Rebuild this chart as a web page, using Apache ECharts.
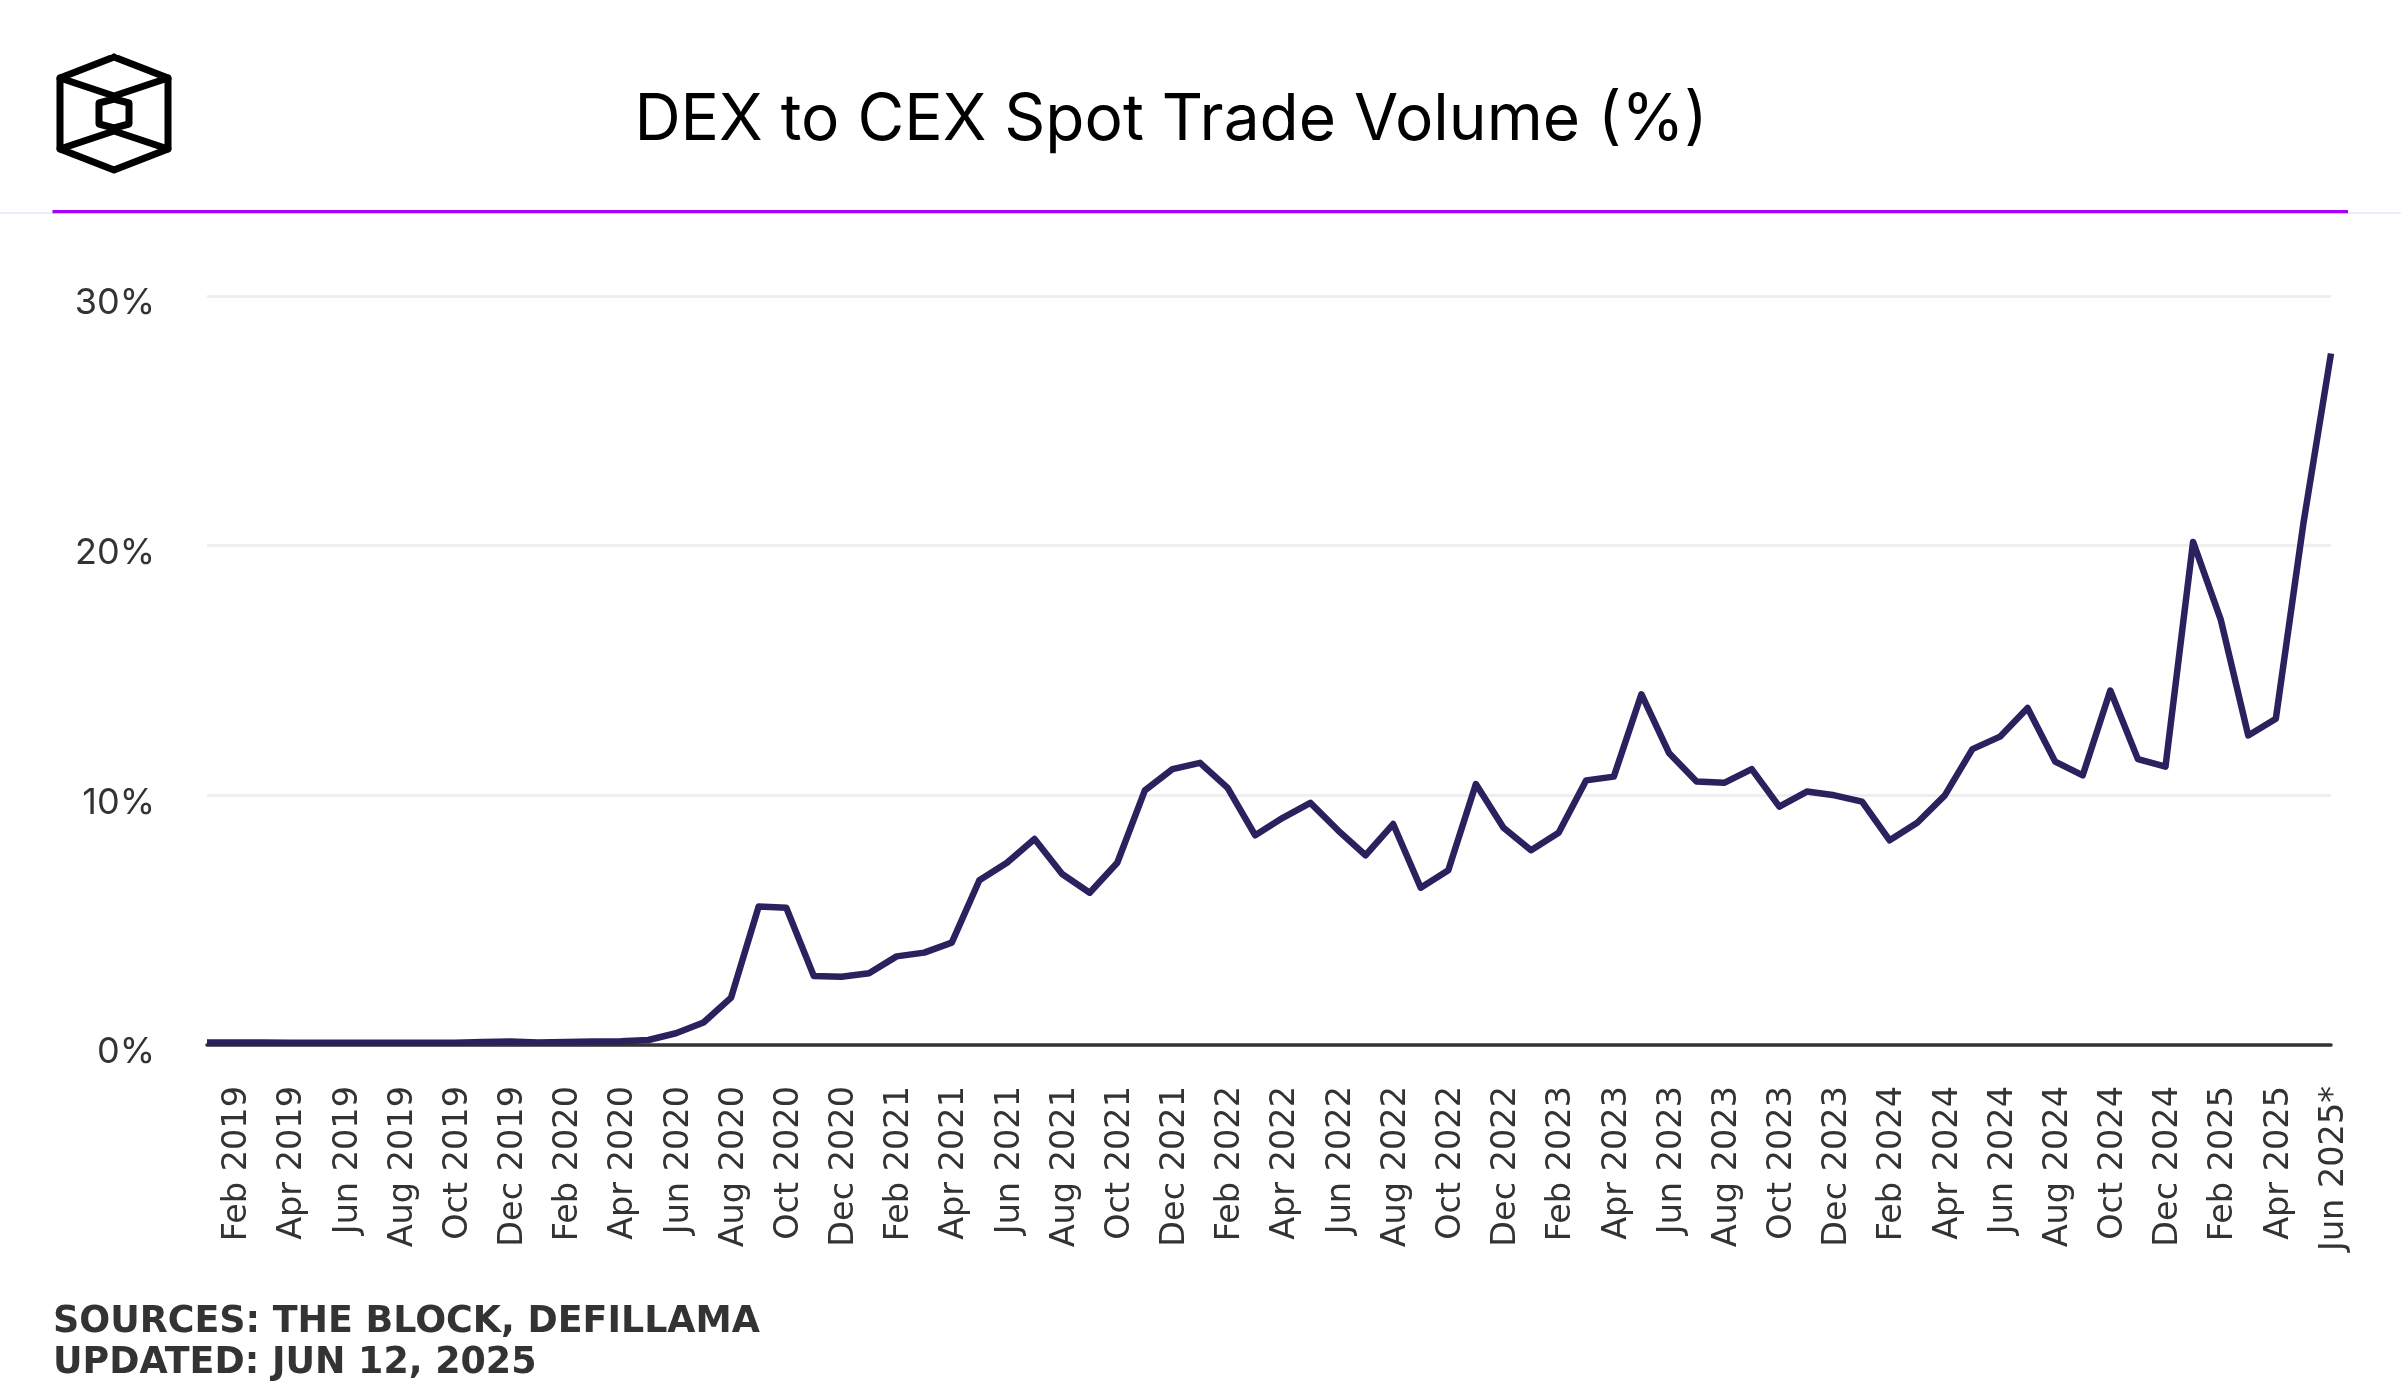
<!DOCTYPE html>
<html>
<head>
<meta charset="utf-8">
<title>DEX to CEX Spot Trade Volume (%)</title>
<script src="https://cdn.jsdelivr.net/npm/echarts@6/dist/echarts.min.js"></script>
<style>
  html, body { margin: 0; padding: 0; background: #fff; }
  #chart { width: 2401px; height: 1400px; }
</style>
</head>
<body>
<div id="chart"></div>
<script>
var chartTitle = "DEX to CEX Spot Trade Volume (%)";
var sourceLines = "SOURCES: THE BLOCK, DEFILLAMA\nUPDATED: JUN 12, 2025";
var seriesName = "DEX to CEX";

var months = [
  "Jan 2019", "Feb 2019", "Mar 2019", "Apr 2019", "May 2019", "Jun 2019",
  "Jul 2019", "Aug 2019", "Sep 2019", "Oct 2019", "Nov 2019", "Dec 2019",
  "Jan 2020", "Feb 2020", "Mar 2020", "Apr 2020", "May 2020", "Jun 2020",
  "Jul 2020", "Aug 2020", "Sep 2020", "Oct 2020", "Nov 2020", "Dec 2020",
  "Jan 2021", "Feb 2021", "Mar 2021", "Apr 2021", "May 2021", "Jun 2021",
  "Jul 2021", "Aug 2021", "Sep 2021", "Oct 2021", "Nov 2021", "Dec 2021",
  "Jan 2022", "Feb 2022", "Mar 2022", "Apr 2022", "May 2022", "Jun 2022",
  "Jul 2022", "Aug 2022", "Sep 2022", "Oct 2022", "Nov 2022", "Dec 2022",
  "Jan 2023", "Feb 2023", "Mar 2023", "Apr 2023", "May 2023", "Jun 2023",
  "Jul 2023", "Aug 2023", "Sep 2023", "Oct 2023", "Nov 2023", "Dec 2023",
  "Jan 2024", "Feb 2024", "Mar 2024", "Apr 2024", "May 2024", "Jun 2024",
  "Jul 2024", "Aug 2024", "Sep 2024", "Oct 2024", "Nov 2024", "Dec 2024",
  "Jan 2025", "Feb 2025", "Mar 2025", "Apr 2025", "May 2025", "Jun 2025*"
];

// one value per month
var dexShare = [
  0.1, 0.1, 0.1, 0.09, 0.09, 0.09,
  0.09, 0.09, 0.09, 0.09, 0.12, 0.14,
  0.1, 0.12, 0.14, 0.15, 0.2, 0.47,
  0.9, 1.9, 5.55, 5.5, 2.76, 2.73,
  2.87, 3.55, 3.7, 4.1, 6.6, 7.3,
  8.25, 6.85, 6.1, 7.3, 10.2, 11.05,
  11.3, 10.3, 8.4, 9.1, 9.7, 8.6,
  7.6, 8.85, 6.3, 7.0, 10.45, 8.7,
  7.8, 8.5, 10.6, 10.75, 14.05, 11.7,
  10.55, 10.5, 11.05, 9.55, 10.15, 10.0,
  9.75, 8.2, 8.9, 10.0, 11.85, 12.35,
  13.5, 11.35, 10.8, 14.2, 11.45, 11.15,
  20.15, 17.05, 12.4, 13.07, 20.9, 27.7
];

var yTicks = [0, 10, 20, 30];

var chart = echarts.init(document.getElementById("chart"));

// logo outline, drawn as plain strokes
function logoLine(points, width) {
  return {
    type: "polyline",
    silent: true,
    shape: { points: points },
    style: { fill: null, stroke: "#000", lineWidth: width, lineJoin: "round", lineCap: "round" }
  };
}

var option = {
  animation: false,
  backgroundColor: "#fff",
  title: [
    {
      text: chartTitle,
      left: 1171,
      top: 121,
      padding: 0,
      textAlign: "center",
      textVerticalAlign: "middle",
      textStyle: { fontFamily: "Inter", fontSize: 64, fontWeight: 400, color: "#000" }
    },
    {
      text: sourceLines,
      left: 53,
      top: 1302,
      padding: 0,
      textStyle: {
        fontFamily: "DejaVu Sans",
        fontSize: 36.4,
        fontWeight: 700,
        color: "#333",
        lineHeight: 41
      }
    }
  ],
  grid: { left: 207, right: 70, top: 296, bottom: 355 },
  xAxis: {
    type: "category",
    data: months,
    boundaryGap: false,
    axisLine: { lineStyle: { color: "#333", width: 3.5 } },
    axisTick: { show: false },
    axisLabel: {
      rotate: 90,
      margin: 41,
      verticalAlign: "top",
      lineHeight: 6,
      interval: function(index) { return index % 2 === 1; },
      fontFamily: "DejaVu Sans",
      fontSize: 33.5,
      color: "#333"
    }
  },
  yAxis: {
    type: "value",
    min: yTicks[0],
    max: yTicks[yTicks.length - 1],
    interval: 10,
    axisLine: { show: false },
    axisTick: { show: false },
    splitLine: { lineStyle: { color: "#eeeeee", width: 3 } },
    axisLabel: {
      margin: 52,
      verticalAlign: "top",
      lineHeight: 15,
      fontFamily: "Inter",
      fontSize: 36,
      color: "#333",
      formatter: "{value}%"
    }
  },
  series: [
    {
      name: seriesName,
      type: "line",
      data: dexShare,
      showSymbol: false,
      lineStyle: { color: "#2a225e", width: 6.5, join: "round" }
    }
  ],
  graphic: [
    { type: "line", silent: true, shape: { x1: 0, y1: 213, x2: 2401, y2: 213 }, style: { stroke: "#e6d2fb", lineWidth: 1 } },
    { type: "line", silent: true, shape: { x1: 52.5, y1: 211.7, x2: 2348, y2: 211.7 }, style: { stroke: "#a800f5", lineWidth: 3.3 } },
    logoLine([[114, 57], [168, 78], [168, 149], [114, 170], [60, 149], [60, 78], [114, 57]], 7),
    logoLine([[60, 78], [114, 96], [168, 78]], 7),
    logoLine([[60, 149], [114, 131], [168, 149]], 7),
    logoLine([[114, 99], [129, 103], [129, 124], [114, 128], [99, 124], [99, 103], [114, 99]], 7)
  ]
};

chart.setOption(option);
</script>
</body>
</html>
